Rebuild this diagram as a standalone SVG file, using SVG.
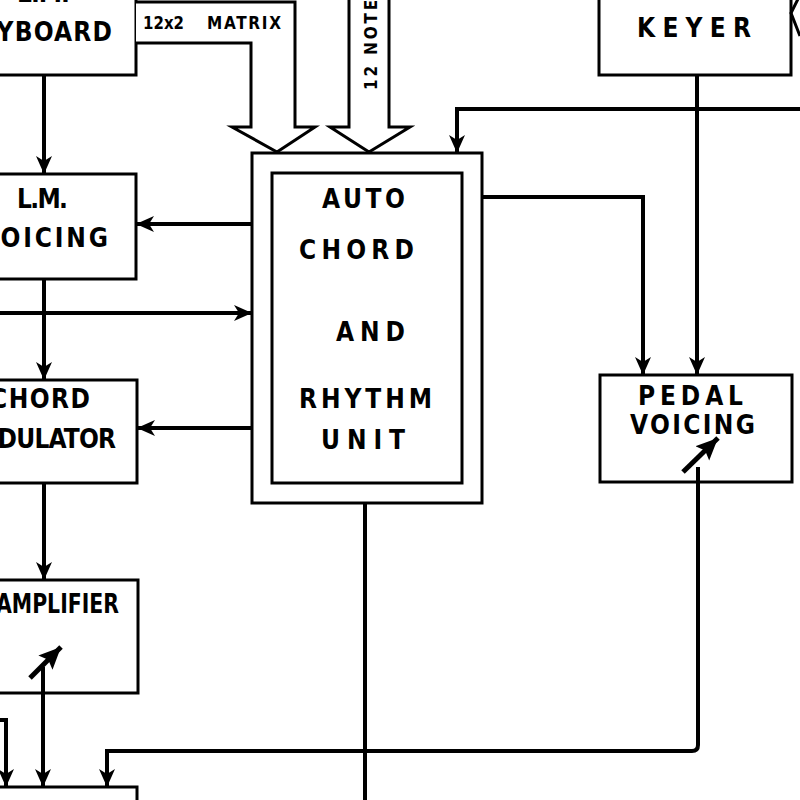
<svg xmlns="http://www.w3.org/2000/svg" width="800" height="800" viewBox="0 0 800 800">
<style>
.box{fill:#fff;stroke:#000;stroke-width:3}
.ln{fill:none;stroke:#000;stroke-width:4}
.var{fill:none;stroke:#000;stroke-width:5}
.hol{fill:#fff;stroke:#000;stroke-width:3;stroke-linejoin:miter}
.lbl{font-family:"DejaVu Sans Condensed","DejaVu Sans",sans-serif;font-weight:bold;font-size:26px;fill:#000}
.sm{font-family:"DejaVu Sans Condensed","DejaVu Sans",sans-serif;font-weight:bold;font-size:17px;fill:#000}
</style>
<defs>
<marker id="ah" markerUnits="userSpaceOnUse" markerWidth="20" markerHeight="18" refX="18" refY="8" orient="auto">
<path d="M0,0 L18,8 L0,16 L5,8 Z" fill="#000"/>
</marker>
<marker id="vh" markerUnits="userSpaceOnUse" markerWidth="26" markerHeight="22" refX="22" refY="10" orient="auto">
<path d="M0,0 L22,10 L0,20 L4,10 Z" fill="#000"/>
</marker>
</defs>
<rect width="800" height="800" fill="#fff"/>

<g id="keyboard">
<rect class="box" x="-5" y="-5" width="141" height="80"/>
<text class="lbl" x="17" y="2" textLength="53" lengthAdjust="spacing">L.M.</text>
<text class="lbl" x="-40" y="41" textLength="152" lengthAdjust="spacing">KEYBOARD</text>
</g>

<g id="lm-voicing">
<rect class="box" x="-5" y="174" width="141" height="105"/>
<text class="lbl" x="17" y="208" textLength="51" lengthAdjust="spacing">L.M.</text>
<text class="lbl" x="-20" y="247" textLength="128" lengthAdjust="spacing">VOICING</text>
</g>

<g id="chord-modulator">
<rect class="box" x="-5" y="380" width="142" height="103"/>
<text class="lbl" x="-10" y="408" textLength="100" lengthAdjust="spacing">CHORD</text>
<text class="lbl" x="-44" y="448" textLength="160" lengthAdjust="spacing">MODULATOR</text>
</g>

<g id="amplifier">
<rect class="box" x="-5" y="580" width="143" height="113"/>
<text class="lbl" x="-4" y="613" textLength="123" lengthAdjust="spacingAndGlyphs">AMPLIFIER</text>
</g>

<g id="bottom-box">
<rect class="box" x="-5" y="787" width="142" height="20"/>
</g>

<g id="auto-chord">
<rect class="box" x="252" y="153" width="230" height="350"/>
<rect class="box" x="272" y="173" width="190" height="310"/>
<text class="lbl" x="322" y="208" textLength="83" lengthAdjust="spacing">AUTO</text>
<text class="lbl" x="299" y="259" textLength="115" lengthAdjust="spacing">CHORD</text>
<text class="lbl" x="336" y="341" textLength="69" lengthAdjust="spacing">AND</text>
<text class="lbl" x="299" y="408" textLength="133" lengthAdjust="spacing">RHYTHM</text>
<text class="lbl" x="321" y="449" textLength="84" lengthAdjust="spacing">UNIT</text>
</g>

<g id="keyer">
<rect class="box" x="599" y="-5" width="192" height="80"/>
<text class="lbl" x="637" y="37" textLength="114" lengthAdjust="spacing">KEYER</text>
</g>

<g id="pedal-voicing">
<rect class="box" x="600" y="375" width="192" height="107"/>
<text class="lbl" x="638" y="405" textLength="105" lengthAdjust="spacing">PEDAL</text>
<text class="lbl" x="630" y="434" textLength="125" lengthAdjust="spacing">VOICING</text>
</g>

<g id="connectors">
<path class="hol" d="M136,2 H295 V127 H315 L277,152 L232,127 H251 V43 H136"/>
<path class="hol" d="M349,-5 V127 H330 L369,152 L410,127 H389 V-5"/>
<path class="ln" d="M44,75 V174" marker-end="url(#ah)"/>
<path class="ln" d="M252,224 H136" marker-end="url(#ah)"/>
<path class="ln" d="M0,313 H252" marker-end="url(#ah)"/>
<path class="ln" d="M44,279 V380" marker-end="url(#ah)"/>
<path class="ln" d="M252,428 H137" marker-end="url(#ah)"/>
<path class="ln" d="M44,483 V580" marker-end="url(#ah)"/>
<path class="ln" d="M482,197 H643 V375" marker-end="url(#ah)"/>
<path class="ln" d="M697,75 V375" marker-end="url(#ah)"/>
<path class="ln" d="M800,109 H457 V153" marker-end="url(#ah)"/>
<path class="ln" d="M365,503 V800"/>
<path class="ln" d="M698,467 V745 Q698,751 692,751 H107 V787" marker-end="url(#ah)"/>
<path class="ln" d="M43,667 V787" marker-end="url(#ah)"/>
<path class="var" d="M30,678 L61,647" marker-end="url(#vh)"/>
<path class="ln" d="M0,720 H6 V787" marker-end="url(#ah)"/>
<path class="var" d="M683,472 L718,438" marker-end="url(#vh)"/>
<polyline points="798,-1 791,13 800,36" fill="none" stroke="#000" stroke-width="3"/>
<text class="sm" x="143" y="29" font-size="18" textLength="41" lengthAdjust="spacingAndGlyphs">12x2</text>
<text class="sm" x="207" y="29" font-size="18" textLength="74" lengthAdjust="spacing">MATRIX</text>
<text class="sm" transform="translate(377,90) rotate(-90)" x="0" y="0" font-size="19" textLength="104" lengthAdjust="spacing">12 NOTES</text>
</g>
</svg>
